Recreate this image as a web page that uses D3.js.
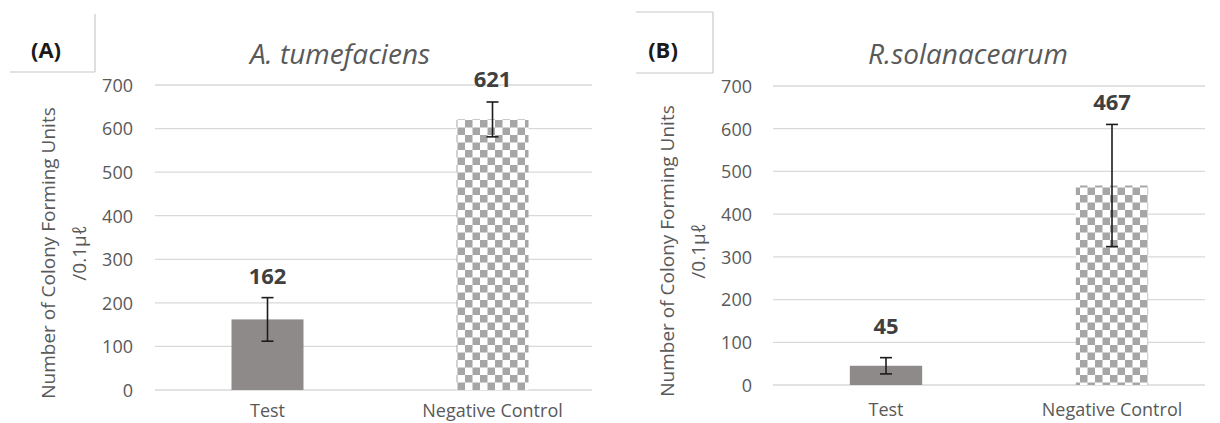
<!DOCTYPE html>
<html>
<head>
<meta charset="utf-8">
<script src="https://cdn.jsdelivr.net/npm/d3@7"></script>
<style>
  html, body { margin: 0; padding: 0; background: #fff; }
  svg { display: block; font-family: "Open Sans", "Noto Sans", sans-serif; }
</style>
</head>
<body>
<svg id="chart" width="1220" height="423"></svg>
<script>
// Colony counts per 0.1 µl for two bacterial strains
const categories = ["Test", "Negative Control"];
const tumefaciensMeans = [162, 621];
const tumefaciensErrors = [50, 40];
const solanacearumMeans = [45, 467];
const solanacearumErrors = [19, 143];
const yTicks = [0, 100, 200, 300, 400, 500, 600, 700];
const panelTags = ["(A)", "(B)"];
const panelTitles = ["A. tumefaciens", "R.solanacearum"];
const yTitleLines = ["Number of Colony Forming Units", "/0.1\u03bc\u2113"];

const svg = d3.select("#chart");
const TEXT = "#595959";

// Checkerboard fill for the control bars
const defs = svg.append("defs");
const pat = defs.append("pattern")
  .attr("id", "checker")
  .attr("patternUnits", "userSpaceOnUse")
  .attr("width", 15).attr("height", 15);
pat.append("rect").attr("width", 15).attr("height", 15).attr("fill", "#fff");
pat.append("rect").attr("x", 0).attr("y", 0).attr("width", 7.5).attr("height", 7.5).attr("fill", "#a6a6a6");
pat.append("rect").attr("x", 7.5).attr("y", 7.5).attr("width", 7.5).attr("height", 7.5).attr("fill", "#a6a6a6");

const panels = [
  {
    tag: panelTags[0], title: panelTitles[0], means: tumefaciensMeans, errors: tumefaciensErrors,
    plotLeft: 155, plotRight: 605, gridRight: 592, yBottom: 390, yTop: 85,
    tickX: 133, titleX: 340, yTitleX: 48, yTitleY: 253, catY: 417,
    box: { x0: 10, x1: 95, y0: 14, y1: 72, sides: ["right", "bottom"] },
    tagX: 46
  },
  {
    tag: panelTags[1], title: panelTitles[1], means: solanacearumMeans, errors: solanacearumErrors,
    plotLeft: 773, plotRight: 1225, gridRight: 1205, yBottom: 385, yTop: 86,
    tickX: 752, titleX: 968, yTitleX: 667, yTitleY: 251, catY: 416,
    box: { x0: 636, x1: 713, y0: 12, y1: 73, sides: ["top", "right", "bottom"] },
    tagX: 663
  }
];

panels.forEach(p => {
  const g = svg.append("g");

  const x = d3.scaleBand()
    .domain(categories)
    .range([p.plotLeft, p.plotRight])
    .paddingInner(0.68)
    .paddingOuter(0.34);
  const y = d3.scaleLinear().domain([0, 700]).range([p.yBottom, p.yTop]);

  // Panel tag box
  const b = p.box;
  const seg = {
    top: [b.x0, b.y0, b.x1, b.y0],
    right: [b.x1, b.y0, b.x1, b.y1],
    bottom: [b.x0, b.y1, b.x1, b.y1],
    left: [b.x0, b.y0, b.x0, b.y1]
  };
  b.sides.forEach(s => {
    const c = seg[s];
    g.append("line")
      .attr("x1", c[0]).attr("y1", c[1]).attr("x2", c[2]).attr("y2", c[3])
      .attr("stroke", "#c8c8c8").attr("stroke-width", 1.2);
  });
  g.append("text")
    .attr("x", p.tagX).attr("y", 58)
    .attr("text-anchor", "middle")
    .attr("font-size", 22).attr("font-weight", "bold")
    .attr("fill", "#1a1a1a")
    .text(p.tag);

  // Title
  g.append("text")
    .attr("x", p.titleX).attr("y", 64)
    .attr("text-anchor", "middle")
    .attr("font-size", 28).attr("font-style", "italic")
    .attr("fill", TEXT)
    .text(p.title);

  // Gridlines and tick labels
  const axis = d3.axisLeft(y).tickValues(yTicks).tickSize(0).tickPadding(0);
  const ag = g.append("g")
    .attr("transform", `translate(${p.tickX},0)`)
    .call(axis);
  ag.select(".domain").remove();
  ag.selectAll("text")
    .attr("font-size", 18).attr("fill", TEXT)
    .attr("font-family", "'Open Sans', sans-serif")
    .attr("dy", "0.35em");

  g.append("g").selectAll("line")
    .data(yTicks)
    .join("line")
    .attr("x1", p.plotLeft).attr("x2", p.gridRight)
    .attr("y1", d => y(d)).attr("y2", d => y(d))
    .attr("stroke", "#d9d9d9").attr("stroke-width", 1.3);

  // Y-axis title (two lines)
  yTitleLines.forEach((line, i) => {
    g.append("text")
      .attr("transform", `translate(${p.yTitleX + i * 31},${p.yTitleY}) rotate(-90)`)
      .attr("text-anchor", "middle")
      .attr("dy", "0.35em")
      .attr("font-size", 19)
      .attr("fill", TEXT)
      .text(line);
  });

  // Bars
  g.append("g").selectAll("rect")
    .data(p.means)
    .join("rect")
    .attr("x", (d, i) => x(categories[i]))
    .attr("width", x.bandwidth())
    .attr("y", d => y(d))
    .attr("height", d => y(0) - y(d))
    .attr("fill", (d, i) => i === 0 ? "#8e8a8a" : "url(#checker)");

  // Error bars
  const eg = g.append("g").attr("stroke", "#1c1c1c").attr("stroke-width", 1.6);
  p.means.forEach((m, i) => {
    const cx = x(categories[i]) + x.bandwidth() / 2;
    const hi = y(m + p.errors[i]);
    const lo = y(m - p.errors[i]);
    eg.append("line").attr("x1", cx).attr("x2", cx).attr("y1", hi).attr("y2", lo);
    eg.append("line").attr("x1", cx - 6).attr("x2", cx + 6).attr("y1", hi).attr("y2", hi);
    eg.append("line").attr("x1", cx - 6).attr("x2", cx + 6).attr("y1", lo).attr("y2", lo);
  });

  // Value labels above each bar
  g.append("g").selectAll("text")
    .data(p.means)
    .join("text")
    .attr("x", (d, i) => x(categories[i]) + x.bandwidth() / 2)
    .attr("y", (d, i) => Math.min(y(d) - 32, y(d + p.errors[i]) - 14))
    .attr("text-anchor", "middle")
    .attr("font-size", 22).attr("font-weight", "bold")
    .attr("fill", "#404040")
    .text(d => d);

  // Category labels
  g.append("g").selectAll("text")
    .data(categories)
    .join("text")
    .attr("x", d => x(d) + x.bandwidth() / 2)
    .attr("y", p.catY)
    .attr("text-anchor", "middle")
    .attr("font-size", 18)
    .attr("fill", TEXT)
    .text(d => d);
});
</script>
</body>
</html>
